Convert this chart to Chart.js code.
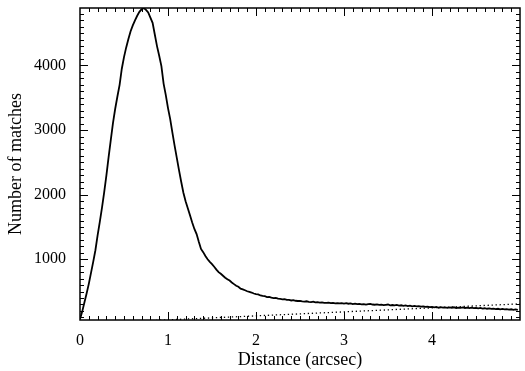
<!DOCTYPE html>
<html>
<head>
<meta charset="utf-8">
<script src="https://cdn.jsdelivr.net/npm/chart.js@4/dist/chart.umd.min.js"></script>
<style>
  html, body { margin: 0; padding: 0; background: #fff; }
  #wrap { width: 525px; height: 371px; }
</style>
</head>
<body>
<div id="wrap"><canvas id="chart" width="525" height="371"></canvas></div>
<script>
// histogram of match distances, bins of 0.025 arcsec starting at 0
const binWidth = 0.025
const counts = [
  70, 190, 330, 470, 620, 790, 960, 1140, 1370, 1580, 1800, 2040, 2300, 2580, 2850, 3110, 3330, 3520, 3700, 3950,
  4130, 4280, 4410, 4530, 4620, 4700, 4770, 4830, 4870, 4890, 4860, 4820, 4740, 4660, 4480, 4300, 4150, 3990, 3720, 3540,
  3340, 3170, 2960, 2760, 2570, 2380, 2200, 2030, 1900, 1790, 1680, 1570, 1470, 1390, 1270, 1160, 1110, 1050, 1000, 960,
  925, 885, 840, 800, 775, 745, 715, 690, 670, 640, 615, 590, 575, 545, 535, 520, 505, 495, 485, 470,
  462, 455, 440, 432, 428, 415, 418, 405, 398, 402, 390, 386, 380, 384, 372, 370, 362, 368, 358, 354,
  356, 348, 345, 350, 340, 338, 344, 332, 335, 328, 333, 326, 324, 330, 320, 325, 318, 322, 316, 320,
  314, 320, 312, 316, 306, 312, 305, 309, 302, 306, 298, 304, 310, 300, 296, 302, 294, 298, 290, 295,
  300, 288, 292, 286, 294, 284, 288, 280, 286, 276, 282, 272, 278, 270, 274, 266, 272, 262, 268, 260,
  264, 256, 262, 250, 258, 252, 256, 248, 254, 250, 257, 246, 252, 248, 254, 246, 250, 244, 252, 245,
  248, 240, 246, 236, 242, 234, 240, 232, 236, 228, 234, 226, 232, 224, 228, 222, 226, 218, 224, 216,
]
// expected random matches (straight line)
const randomX = [0, 5]
const randomY = [0, 310]

const xTicks = [0, 1, 2, 3, 4]
const yTicks = [1000, 2000, 3000, 4000]

const family = '"Liberation Serif", "Times New Roman", serif'
const tickFont = { family: family, size: 16 }
const titleFont = { family: family, size: 18 }

const histData = counts.map((c, i) => ({ x: i * binWidth, y: c }))
const randomData = randomX.map((x, i) => ({ x: x, y: randomY[i] }))

// inward tick marks on all four sides plus the frame, IDL style
const frame = {
  id: 'frame',
  afterDraw(chart) {
    const { ctx, chartArea: a, scales } = chart
    const xs = scales.x, ys = scales.y
    ctx.save()
    ctx.strokeStyle = '#000'
    ctx.lineWidth = 1
    ctx.beginPath()
    for (let i = 1; i < 50; i++) {
      const v = i / 10
      const len = i % 10 === 0 ? 8 : 4
      const px = Math.round(xs.getPixelForValue(v)) + 0.5
      ctx.moveTo(px, a.bottom); ctx.lineTo(px, a.bottom - len)
      ctx.moveTo(px, a.top); ctx.lineTo(px, a.top + len)
    }
    for (let v = 100; v < ys.max; v += 100) {
      const len = v % 1000 === 0 ? 8 : 4
      const py = Math.round(ys.getPixelForValue(v)) + 0.5
      ctx.moveTo(a.left, py); ctx.lineTo(a.left + len, py)
      ctx.moveTo(a.right, py); ctx.lineTo(a.right - len, py)
    }
    ctx.stroke()
    ctx.lineWidth = 1.5
    ctx.strokeRect(a.left, a.top, a.right - a.left, a.bottom - a.top)
    ctx.restore()
  }
}

new Chart(document.getElementById('chart'), {
  type: 'line',
  data: {
    datasets: [
      {
        data: histData,
        borderColor: '#000',
        borderWidth: 1.8,
        pointRadius: 0,
      },
      {
        data: randomData,
        borderColor: '#000',
        borderWidth: 1.3,
        borderDash: [1.3, 2.7],
        pointRadius: 0,
      },
    ],
  },
  options: {
    responsive: false,
    animation: false,
    layout: { padding: { top: 8, right: 5, left: 0, bottom: 0 } },
    plugins: {
      legend: { display: false },
      tooltip: { enabled: false },
    },
    scales: {
      x: {
        type: 'linear',
        min: 0,
        max: 5,
        grid: { display: false, drawTicks: false },
        border: { display: false },
        afterBuildTicks: (s) => { s.ticks = xTicks.map(v => ({ value: v })) },
        afterFit: (s) => { s.height = 51; s.paddingLeft = 0; s.paddingRight = 0 },
        ticks: { color: '#000', font: tickFont, padding: 11, maxRotation: 0, callback: (v) => String(v) },
        title: { display: true, text: 'Distance (arcsec)', color: '#000', font: titleFont, padding: 0 },
      },
      y: {
        min: 60,
        max: 4890,
        grid: { display: false, drawTicks: false },
        border: { display: false },
        afterBuildTicks: (s) => { s.ticks = yTicks.map(v => ({ value: v })) },
        afterFit: (s) => { s.width = 80; s.paddingTop = 0; s.paddingBottom = 0 },
        ticks: { color: '#000', font: tickFont, padding: 14, callback: (v) => String(v) },
        title: { display: true, text: 'Number of matches', color: '#000', font: titleFont, padding: { top: 5, bottom: 0 } },
      },
    },
  },
  plugins: [frame],
})
</script>
</body>
</html>
